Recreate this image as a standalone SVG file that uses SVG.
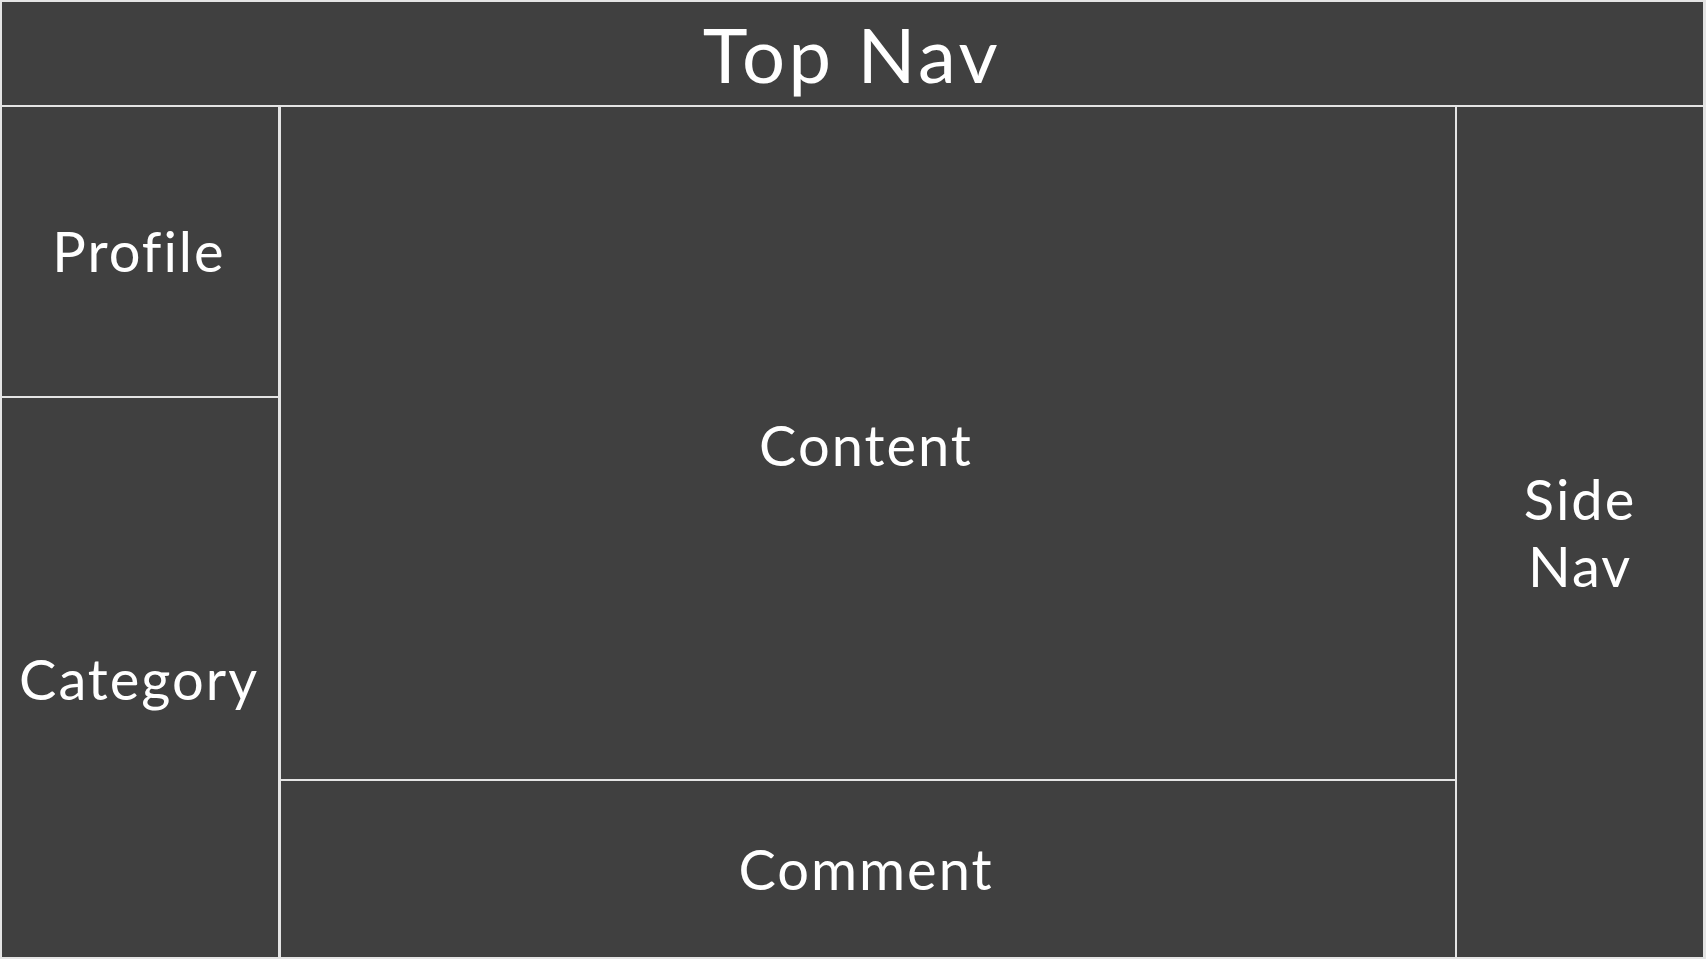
<svg xmlns="http://www.w3.org/2000/svg" width="1706" height="959" viewBox="0 0 1706 959">
<style>
.box{fill:#404040;}
.lbl{fill:#ffffff;font-family:Lato,"Liberation Sans",sans-serif;font-size:56px;font-weight:400;text-anchor:middle;letter-spacing:2px;}
.big{font-size:76px;letter-spacing:3.5px;}
</style>
<rect x="0" y="0" width="1706" height="959" fill="#e4e4e4"/>
<g id="top-nav"><rect class="box" x="2" y="2" width="1701" height="103"/><text class="lbl big" x="852" y="83">Top Nav</text></g>
<g id="profile"><rect class="box" x="2" y="107" width="276" height="289"/><text class="lbl" x="139" y="272">Profile</text></g>
<g id="category"><rect class="box" x="2" y="398" width="276" height="559"/><text class="lbl" x="139" y="700">Category</text></g>
<g id="content"><rect class="box" x="281" y="107" width="1174" height="672"/><text class="lbl" x="866" y="466">Content</text></g>
<g id="comment"><rect class="box" x="281" y="781" width="1174" height="176"/><text class="lbl" x="866" y="890">Comment</text></g>
<g id="side-nav"><rect class="box" x="1457" y="107" width="246" height="850"/><text class="lbl" x="1580" y="520">Side</text><text class="lbl" x="1580" y="587">Nav</text></g>
<g id="connectors"/>
</svg>
